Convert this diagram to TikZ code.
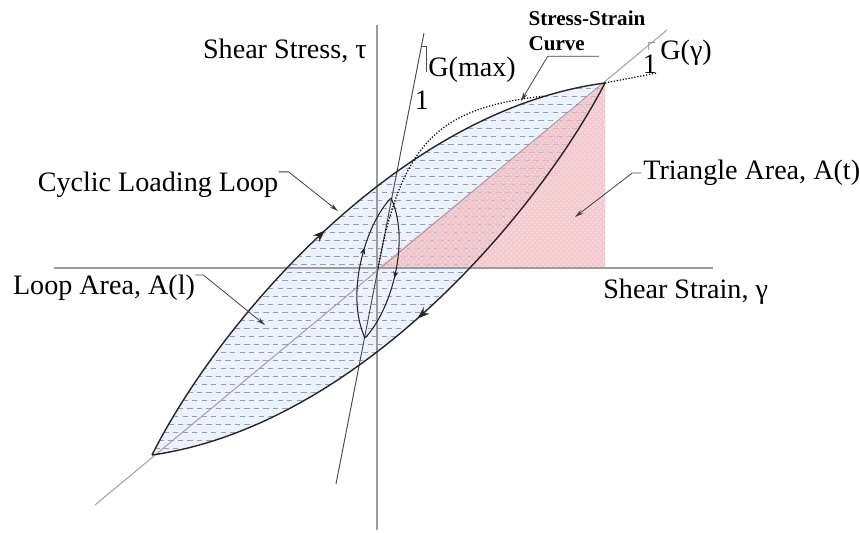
\documentclass[tikz,border=0pt]{standalone}
\usepackage{fontspec}
\setmainfont{Liberation Serif}
\usetikzlibrary{arrows.meta, positioning, calc, decorations.markings, patterns}
\definecolor{loopblue}{RGB}{236,242,252}
\definecolor{dashblue}{RGB}{145,160,198}
\definecolor{tripink}{RGB}{242,184,190}
\definecolor{axisgray}{RGB}{155,155,155}
\tikzset{
  lbl/.style={inner sep=0pt, font=\fontsize{16}{19}\selectfont},
  smalllbl/.style={inner sep=0pt, font=\fontsize{12}{14}\selectfont\bfseries},
  axisline/.style={axisgray, line width=0.8pt},
  secline/.style={gray!75, line width=0.55pt},
  maxline/.style={black!70, line width=0.55pt},
  loopline/.style={black!85, line width=0.8pt},
  backbone/.style={black, line width=0.7pt, densely dotted},
  leader/.style={-{Stealth[length=5pt,width=2.6pt]}, black!75, line width=0.45pt},
  hatchdash/.style={dashblue, line width=0.5pt, dash pattern=on 3pt off 2.4pt},
  midarrow/.style={postaction={decorate, decoration={markings, mark=at position #1 with {\arrow{Stealth[length=7pt,width=5pt]}}}}},
  smallarrow/.style={postaction={decorate, decoration={markings, mark=at position #1 with {\arrow{Stealth[length=4pt,width=3pt]}}}}},
}
\begin{document}
\begin{tikzpicture}[x=0.02cm, y=-0.02cm]
  \useasboundingbox (0,0) rectangle (860,533);
  \coordinate (O) at (378,268);
  \coordinate (tl) at (152,455);
  \coordinate (tr) at (605,83);
  \coordinate (tb) at (605,268);
  \begin{scope}
    \clip (tl) .. controls (220,320) and (400,110) .. (tr) .. controls (536,216) and (356,426) .. (tl) -- cycle;
    \fill[loopblue] (100,60) rectangle (640,480);
    \foreach \yy in {88,104,...,456} \draw[hatchdash] (140,\yy) -- (620,\yy);
    \foreach \yy in {96,112,...,456} \draw[hatchdash, dash phase=2.7pt] (140,\yy) -- (620,\yy);
  \end{scope}
  \fill[tripink, fill opacity=0.75] (O) -- (tb) -- (tr) -- cycle;
  \fill[pattern=crosshatch dots, pattern color=white, opacity=0.5] (O) -- (tb) -- (tr) -- cycle;

  \coordinate (xl) at (54,268);
  \coordinate (xr) at (713,268);
  \coordinate (yt) at (377,25);
  \coordinate (yb) at (377,530);
  \draw[axisline] (xl) -- (xr);
  \draw[axisline] (yt) -- (yb);

  \coordinate (s1) at (95,505);
  \coordinate (s2) at (667,30);
  \coordinate (g1) at (336,484);
  \coordinate (g2) at (424,33);
  \draw[secline] (s1) -- (s2);
  \draw[maxline] (g1) -- (g2);

  \draw[loopline, midarrow=0.47] (tl) .. controls (220,320) and (400,110) .. (tr);
  \draw[loopline, midarrow=0.5] (tr) .. controls (536,216) and (356,426) .. (tl);
  \coordinate (ib) at (365,338);
  \coordinate (it) at (391,198);
  \draw[loopline, line width=0.6pt, smallarrow=0.62] (ib) .. controls (345,295) and (365,225) .. (it);
  \draw[loopline, line width=0.6pt, smallarrow=0.55] (it) .. controls (411,241) and (391,311) .. (ib);
  \draw[backbone] (O) .. controls (402,140) and (440,108) .. (544,96);
  \draw[backbone] (tr) -- (657,73);

  \draw[maxline] (421,46) -- (426,46) -- (426,72);
  \draw[secline] (655,42) -- (648,42) -- (648,50);

  \node[lbl, anchor=east] (ytl) at (367,51) {Shear Stress, τ};
  \node[lbl, anchor=west] (xtl) at (603,292) {Shear Strain, γ};
  \node[lbl] (cyc) at (158,185) {Cyclic Loading Loop};
  \node[lbl] (lpa) at (104,288) {Loop Area, A(l)};
  \node[lbl, anchor=west] (tri) at (643,173) {Triangle Area, A(t)};
  \node[lbl, anchor=west] (gmax) at (428,70) {G(max)};
  \node[lbl] (onemax) at (422,100) {1};
  \node[lbl, anchor=west] (ggam) at (660,53) {G(γ)};
  \node[lbl] (onegam) at (650,64) {1};
  \node[smalllbl] (ss) at (587,18) {Stress-Strain};
  \node[smalllbl, below=6pt of ss.south west, anchor=north west] (cur) {Curve};

  \coordinate (cycend) at (338,211);
  \coordinate (lpend) at (265,325);
  \coordinate (triend) at (575,217);
  \coordinate (ssend) at (521,101);
  \draw[leader] (cyc.north east) -- ++(10,0) -- (cycend);
  \draw[leader] (lpa.north east) -- ++(8,0) -- (lpend);
  \draw[leader] ([xshift=-1pt]tri.west) -- ++(-9,0) -- (triend);
  \draw[leader] ($(cur.south east)+(14,5)$) -- ($(cur.south)+(-9,5)$) -- (ssend);
\end{tikzpicture}
\end{document}
